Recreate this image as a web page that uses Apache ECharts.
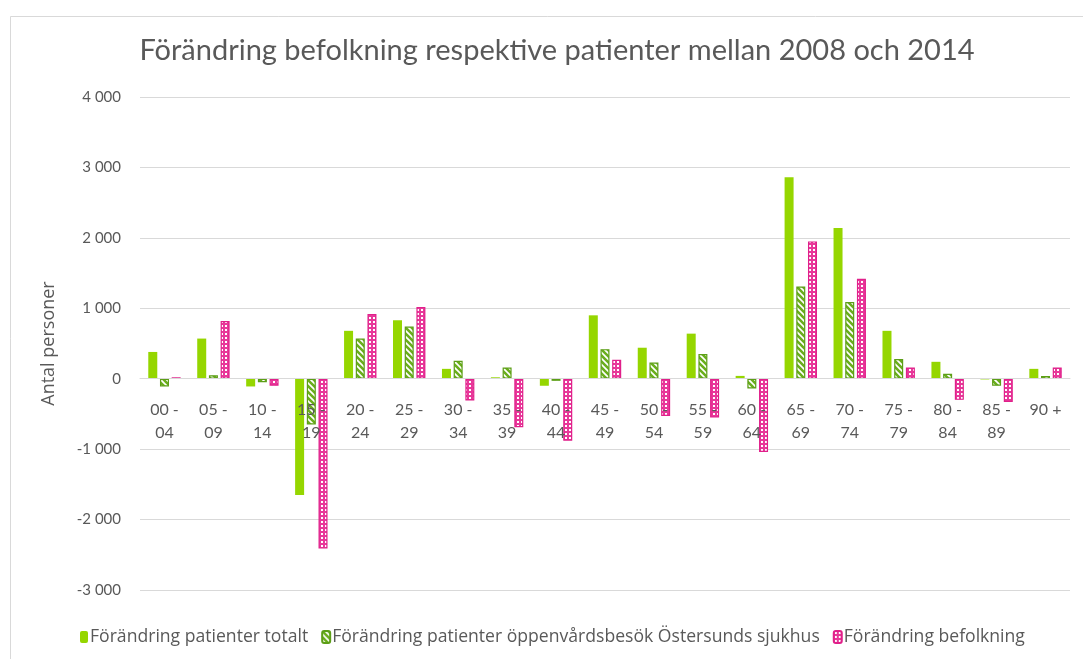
<!DOCTYPE html>
<html>
<head>
<meta charset="utf-8">
<script src="https://cdn.jsdelivr.net/npm/echarts@6/dist/echarts.min.js"></script>
<style>
html,body{margin:0;padding:0;background:#fff;}
#chart{width:1083px;height:659px;}
</style>
</head>
<body>
<div id="chart"></div>
<script>
var categories = ["00 - 04","05 - 09","10 - 14","15 - 19","20 - 24","25 - 29","30 - 34","35 - 39","40 - 44","45 - 49","50 - 54","55 - 59","60 - 64","65 - 69","70 - 74","75 - 79","80 - 84","85 - 89","90 +"];
var patienterTotalt = [380, 570, -110, -1650, 680, 830, 140, 20, -100, 900, 440, 640, 40, 2860, 2140, 680, 240, -10, 140];
var oppenvard = [-110, 50, -50, -650, 570, 740, 255, 160, -30, 420, 230, 350, -140, 1310, 1090, 280, 70, -100, 40];
var befolkning = [20, 820, -100, -2410, 920, 1020, -310, -690, -880, 270, -530, -550, -1040, 1950, 1420, 160, -300, -330, 160];
var seriesNames = ["Förändring patienter totalt", "Förändring patienter öppenvårdsbesök Östersunds sjukhus", "Förändring befolkning"];
var yTicks = {min: -3000, max: 4000, interval: 1000};

function hatchPattern() {
  var c = document.createElement('canvas');
  c.width = 6; c.height = 6;
  var ctx = c.getContext('2d');
  ctx.fillStyle = '#ffffff';
  ctx.fillRect(0, 0, 6, 6);
  ctx.strokeStyle = '#6aae1c';
  ctx.lineWidth = 2.6;
  ctx.beginPath();
  ctx.moveTo(-1, -1); ctx.lineTo(7, 7);
  ctx.moveTo(-4, 2); ctx.lineTo(4, 10);
  ctx.moveTo(2, -4); ctx.lineTo(10, 4);
  ctx.stroke();
  return c;
}
function dotPattern() {
  var c = document.createElement('canvas');
  c.width = 4; c.height = 4;
  var ctx = c.getContext('2d');
  ctx.fillStyle = '#e8389a';
  ctx.fillRect(0, 0, 4, 4);
  ctx.fillStyle = '#ffffff';
  ctx.fillRect(1, 1, 2, 2);
  return c;
}

var fontFam = 'Lato, "Open Sans", sans-serif';
var wideFam = '"Open Sans", Lato, sans-serif';
var gridTop = 97, gridBottom = 69, chartH = 659;
var chart = echarts.init(document.getElementById('chart'), null, {renderer: 'canvas'});
chart.setOption({
  backgroundColor: '#ffffff',
  animation: false,
  textStyle: {fontFamily: fontFam},
  graphic: [{
    type: 'rect', left: 8, top: 14, silent: true,
    shape: {width: 1120, height: 700},
    style: {fill: 'none', stroke: '#d9d9d9', lineWidth: 1}
  }],
  title: {
    text: 'Förändring befolkning respektive patienter mellan 2008 och 2014',
    left: 552, top: 31, textAlign: 'center',
    textStyle: {fontFamily: fontFam, fontSize: 29, fontWeight: 'normal', color: '#595959'}
  },
  legend: {
    left: 75, top: 623,
    itemWidth: 8, itemHeight: 12, itemGap: 13,
    textStyle: {fontFamily: wideFam, fontSize: 17.6, color: '#595959', padding: [0, 0, 0, -3]},
    data: seriesNames
  },
  grid: {left: 140, right: 13, top: gridTop, bottom: gridBottom, containLabel: false},
  xAxis: {
    type: 'category', data: categories, z: 5,
    axisLine: {onZero: true, lineStyle: {color: '#d9d9d9'}},
    axisTick: {show: false},
    axisLabel: {
      interval: 0, margin: 20, fontSize: 16, lineHeight: 23, color: '#595959', fontFamily: fontFam,
      formatter: function (v) { return v.replace(' - ', ' -\n'); }
    }
  },
  yAxis: {
    type: 'value', min: yTicks.min, max: yTicks.max, interval: yTicks.interval,
    name: 'Antal personer', nameLocation: 'middle', nameGap: 82, nameRotate: 90,
    nameTextStyle: {fontFamily: wideFam, fontSize: 18, color: '#595959'},
    axisLine: {show: false}, axisTick: {show: false},
    splitLine: {lineStyle: {color: '#d9d9d9', width: 1}},
    axisLabel: {
      margin: 19, fontSize: 15, color: '#595959', fontFamily: fontFam,
      formatter: function (v) {
        var s = Math.abs(v).toString().replace(/\B(?=(\d{3})+(?!\d))/g, ' ');
        return (v < 0 ? '-' : '') + s;
      }
    }
  },
  series: [
    {name: seriesNames[0], type: 'bar', data: patienterTotalt, barWidth: 9, barGap: '30%',
     itemStyle: {color: '#95d600'}},
    {name: seriesNames[1], type: 'bar', data: oppenvard, barWidth: 9, barGap: '30%',
     itemStyle: {color: {image: hatchPattern(), repeat: 'repeat'}, borderColor: '#5c9e17', borderWidth: 1.2}},
    {name: seriesNames[2], type: 'bar', data: befolkning, barWidth: 9, barGap: '30%',
     itemStyle: {color: {image: dotPattern(), repeat: 'repeat'}, borderColor: '#e0208a', borderWidth: 1.2}}
  ]
});
// If the category axis labels are not placed at the zero line, move them there.
var zeroY = chart.convertToPixel({yAxisIndex: 0}, 0);
var bottomY = chartH - gridBottom;
var xAxisComp = chart.getModel().getComponent('xAxis', 0);
var axisOnZero = xAxisComp && xAxisComp.axis && xAxisComp.axis.onZero;
if (!axisOnZero) {
  chart.setOption({xAxis: {axisLabel: {margin: 20 - (bottomY - zeroY)}}});
}
</script>
</body>
</html>
